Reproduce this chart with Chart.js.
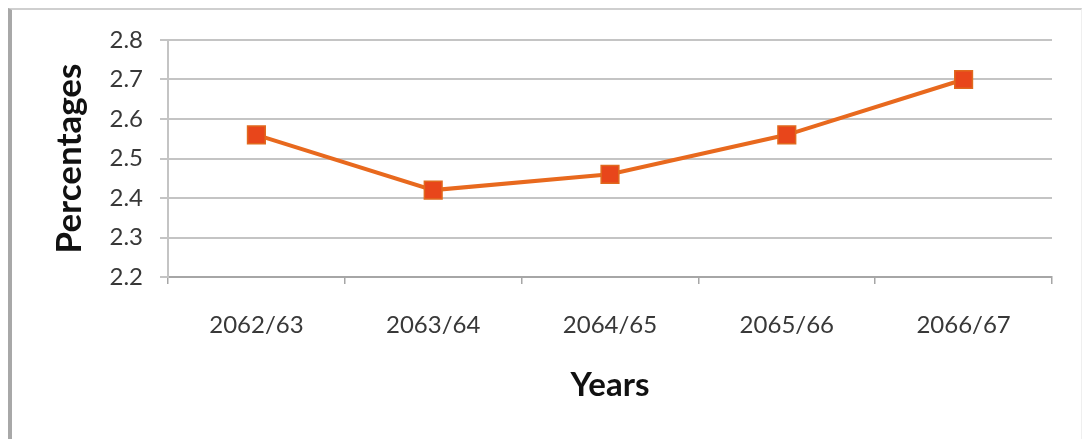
<!DOCTYPE html>
<html>
<head>
<meta charset="utf-8">
<script src="https://cdn.jsdelivr.net/npm/chart.js@4"></script>
<style>
  html, body { margin: 0; padding: 0; background: #ffffff; }
  #wrap { position: relative; width: 1089px; height: 439px; overflow: hidden; background: #fff; }
  #frame { position: absolute; left: 8px; top: 8px; width: 1074px; height: 440px;
           border-left: 4px solid #a8a8a8; border-top: 2px solid #cfcfcf; border-right: 1px solid #efefef; box-sizing: border-box; }
  canvas { position: absolute; left: 0; top: 0; }
</style>
</head>
<body>
<div id="wrap">
  <div id="frame"></div>
  <canvas id="c" width="1089" height="439"></canvas>
</div>
<script>
const categories = ['2062/63', '2063/64', '2064/65', '2065/66', '2066/67'];
const percentages = [2.56, 2.42, 2.46, 2.56, 2.70];
const yTickLabels = ['2.2', '2.3', '2.4', '2.5', '2.6', '2.7', '2.8'];
const yMin = 2.2, yMax = 2.8, yStep = 0.1;
const xTitle = 'Years';
const yTitle = 'Percentages';

const tickFont = { family: 'Lato', size: 24 };
const xTitleFont = { family: 'Lato', size: 33, weight: 'bold' };
const yTitleFont = { family: 'Lato', size: 35, weight: 'bold' };

new Chart(document.getElementById('c'), {
  type: 'line',
  data: {
    labels: categories,
    datasets: [{
      data: percentages,
      borderColor: '#E8691E',
      borderWidth: 4,
      pointStyle: 'rect',
      pointRadius: 12.5,
      pointBackgroundColor: '#E8461B',
      pointBorderColor: '#E06A1E',
      pointBorderWidth: 1.5,
      tension: 0,
      fill: false
    }]
  },
  options: {
    responsive: false,
    animation: false,
    devicePixelRatio: 1,
    layout: { padding: { left: 0, top: 40, right: 37, bottom: 0 } },
    plugins: { legend: { display: false }, tooltip: { enabled: false } },
    scales: {
      x: {
        offset: true,
        afterFit: (s) => { s.height = 439 - 277; },
        grid: { offset: true, drawOnChartArea: false, drawTicks: true, tickLength: 7, color: '#a6a6a6', lineWidth: 1.5 },
        border: { display: true, color: '#a6a6a6', width: 2 },
        ticks: { font: tickFont, color: '#383838', padding: 27, maxRotation: 0 },
        title: { display: true, text: xTitle, font: xTitleFont, color: '#111', padding: { top: 0, bottom: 34 } }
      },
      y: {
        min: yMin, max: yMax,
        afterFit: (s) => { s.width = 168; },
        afterBuildTicks: (s) => { s.ticks = yTickLabels.map(t => ({ value: parseFloat(t) })); },
        grid: { color: '#c4c4c4', lineWidth: 2, tickLength: 8 },
        border: { display: true, color: '#c4c4c4', width: 2 },
        ticks: { stepSize: yStep, font: tickFont, color: '#383838', padding: 17,
                 callback: (v, i) => yTickLabels[i] },
        title: { display: true, text: yTitle, font: yTitleFont, color: '#111', padding: { top: 49, bottom: 0 } }
      }
    }
  }
});
</script>
</body>
</html>
